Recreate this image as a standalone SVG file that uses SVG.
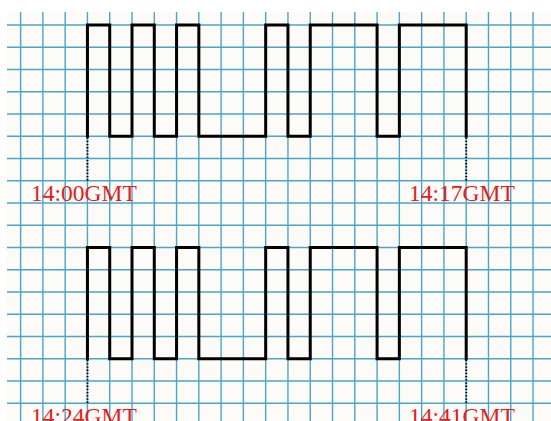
<svg xmlns="http://www.w3.org/2000/svg" width="551" height="421" viewBox="0 0 551 421">
<style>
.grid{stroke:#4aa6c6;stroke-width:1.4;fill:none}
.wave{stroke:#000;stroke-width:3;fill:none;stroke-linejoin:miter;stroke-linecap:square}
.dot{stroke:#000;stroke-width:2;stroke-dasharray:1.3 1.9;fill:none}
.lbl{font-family:"Liberation Serif","Times New Roman",serif;font-size:23.5px;fill:#e0201e}
</style>
<rect x="0" y="0" width="551" height="421" fill="#ffffff"/>
<rect x="7" y="12" width="544" height="409" fill="#fdfbf7"/>
<g id="grid" class="grid">
<path d="M20.6 12V421M42.88 12V421M65.16 12V421M87.44 12V421M109.72 12V421M132 12V421M154.28 12V421M176.56 12V421M198.84 12V421M221.12 12V421M243.4 12V421M265.68 12V421M287.96 12V421M310.24 12V421M332.52 12V421M354.8 12V421M377.08 12V421M399.36 12V421M421.64 12V421M443.92 12V421M466.2 12V421M488.48 12V421M510.76 12V421M533.04 12V421"/>
<path d="M7 25H551M7 47.25H551M7 69.5H551M7 91.75H551M7 114H551M7 136.25H551M7 158.5H551M7 180.75H551M7 203H551M7 225.25H551M7 247.5H551M7 269.75H551M7 292H551M7 314.25H551M7 336.5H551M7 358.75H551M7 381H551M7 403.25H551"/>
</g>
<g id="wave-top">
<path class="wave" d="M87.44 136.25V25H109.72V136.25H132V25H154.28V136.25H176.56V25H198.84V136.25H265.68V25H287.96V136.25H310.24V25H377.08V136.25H399.36V25H466.2V136.25"/>
<path class="dot" d="M87.44 137.5V180.75M466.2 137.5V180.75"/>
<text class="lbl" x="31" y="201">14:00GMT</text>
<text class="lbl" x="409" y="201">14:17GMT</text>
</g>
<g id="wave-bottom">
<path class="wave" d="M87.44 358.75V247.5H109.72V358.75H132V247.5H154.28V358.75H176.56V247.5H198.84V358.75H265.68V247.5H287.96V358.75H310.24V247.5H377.08V358.75H399.36V247.5H466.2V358.75"/>
<path class="dot" d="M87.44 360V403.25M466.2 360V403.25"/>
<text class="lbl" x="31" y="423.7">14:24GMT</text>
<text class="lbl" x="409" y="423.7">14:41GMT</text>
</g>
</svg>
